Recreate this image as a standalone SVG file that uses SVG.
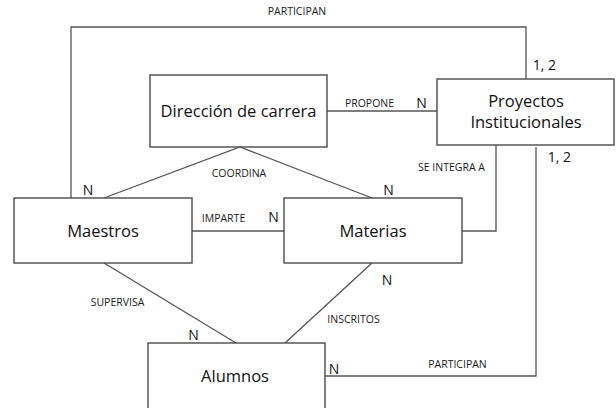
<svg xmlns="http://www.w3.org/2000/svg" width="616" height="408" viewBox="0 0 616 408">
<style>
.box{fill:#fff;stroke:#4a4a4a;stroke-width:1.4}
.ln{fill:none;stroke:#555;stroke-width:1.3}
.nt{font-family:"Open Sans","Noto Sans",sans-serif;font-size:16.5px;fill:#111;text-anchor:middle}
.lb{font-family:"Open Sans","Noto Sans",sans-serif;font-size:10.5px;fill:#1a1a1a;text-anchor:middle}
.cd{font-family:"Open Sans","Noto Sans",sans-serif;font-size:14px;fill:#111;text-anchor:middle}
</style>
<rect width="616" height="408" fill="#fff"/>
<g id="connectors">
<polyline class="ln" points="71,198 71,27 526,27 526,79"/>
<line class="ln" x1="327" y1="111" x2="437" y2="111"/>
<polyline class="ln" points="104,198 240,147 372,198"/>
<line class="ln" x1="192" y1="231" x2="284" y2="231"/>
<polyline class="ln" points="496,145 496,231 462,231"/>
<polyline class="ln" points="536,147 536,376 325,376"/>
<line class="ln" x1="104" y1="263" x2="236" y2="343"/>
<line class="ln" x1="372" y1="263" x2="285" y2="343"/>
<text class="lb" x="297" y="15">PARTICIPAN</text>
<text class="lb" x="369.5" y="107">PROPONE</text>
<text class="lb" x="239" y="177">COORDINA</text>
<text class="lb" x="451.5" y="171">SE INTEGRA A</text>
<text class="lb" x="223.5" y="222">IMPARTE</text>
<text class="lb" x="117.5" y="306">SUPERVISA</text>
<text class="lb" x="353.5" y="323">INSCRITOS</text>
<text class="lb" x="457.5" y="368">PARTICIPAN</text>
<text class="cd" x="544.5" y="70">1, 2</text>
<text class="cd" x="559.5" y="162">1, 2</text>
<text class="cd" x="421.5" y="108">N</text>
<text class="cd" x="88" y="195">N</text>
<text class="cd" x="388.5" y="195">N</text>
<text class="cd" x="273.5" y="222">N</text>
<text class="cd" x="387" y="285">N</text>
<text class="cd" x="193.5" y="340">N</text>
<text class="cd" x="334" y="374">N</text>
</g>
<g id="direccion">
<rect class="box" x="150" y="75" width="177" height="72"/>
<text class="nt" x="238.5" y="117">Dirección de carrera</text>
</g>
<g id="proyectos">
<rect class="box" x="437" y="79" width="177" height="66"/>
<text class="nt" x="526" y="107">Proyectos</text>
<text class="nt" x="526" y="128">Institucionales</text>
</g>
<g id="maestros">
<rect class="box" x="14" y="198" width="178" height="65"/>
<text class="nt" x="103" y="237">Maestros</text>
</g>
<g id="materias">
<rect class="box" x="284" y="198" width="178" height="65"/>
<text class="nt" x="373" y="237">Materias</text>
</g>
<g id="alumnos">
<rect class="box" x="148" y="343" width="177" height="80"/>
<text class="nt" x="235" y="382">Alumnos</text>
</g>
</svg>
